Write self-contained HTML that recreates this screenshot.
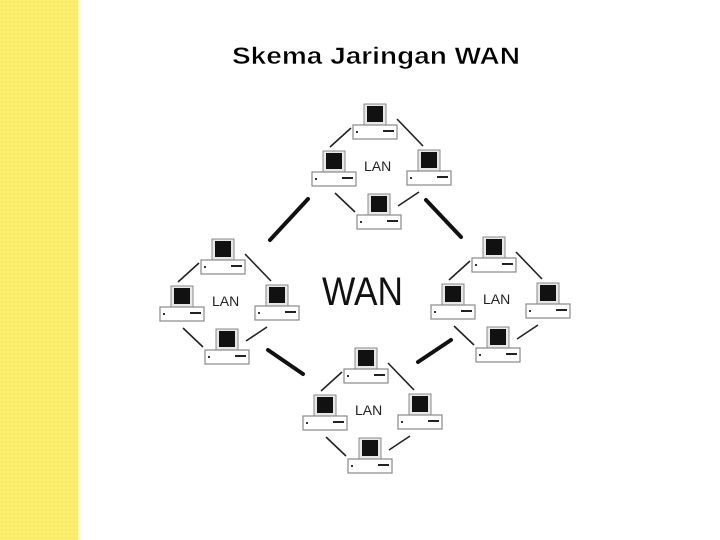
<!DOCTYPE html>
<html><head><meta charset="utf-8"><style>
html,body{margin:0;padding:0;background:#fff;}
body{width:720px;height:540px;position:relative;overflow:hidden;}
.strip{position:absolute;left:0;top:0;width:78px;height:540px;background:#faf06c;
background-image:radial-gradient(circle,#f6e86a 1px,transparent 1.6px);background-size:4px 4px;}
.edge{position:absolute;left:78px;top:0;width:2px;height:540px;background:#fdf8c8;}
</style></head><body>
<div class="strip"></div><div class="edge"></div>
<svg width="720" height="540" style="position:absolute;left:0;top:0" xmlns="http://www.w3.org/2000/svg">
<defs>
<g id="pc">
<rect x="-11" y="0" width="22" height="21" fill="#e8e8e8" stroke="#888" stroke-width="1"/>
<rect x="-8" y="2" width="16" height="16" fill="#111"/>
<rect x="-22" y="21" width="44" height="14" fill="#fff" stroke="#888" stroke-width="1.2"/>
<rect x="-19" y="27" width="2" height="2" fill="#333"/>
<rect x="8" y="26" width="11" height="2" fill="#222"/>
</g>
<g id="cl">
<use href="#pc" x="0" y="0"/>
<use href="#pc" x="-41" y="47"/>
<use href="#pc" x="54" y="46"/>
<use href="#pc" x="4" y="90"/>
<g stroke="#222" stroke-width="1.6">
<line x1="-24" y1="24" x2="-45" y2="43"/>
<line x1="22" y1="15" x2="48" y2="42"/>
<line x1="-40" y1="89" x2="-20" y2="108"/>
<line x1="23" y1="102" x2="44" y2="88"/>
</g>
<text x="-11" y="67" font-family="Liberation Sans, sans-serif" font-size="14" fill="#222">LAN</text>
</g>
</defs>
<text x="232" y="64" textLength="288" lengthAdjust="spacingAndGlyphs" font-family="Liberation Sans, sans-serif" font-size="24" font-weight="bold" fill="#000" stroke="#fff" stroke-width="0.5">Skema Jaringan WAN</text>
<use href="#cl" x="375" y="104"/>
<use href="#cl" x="223" y="239"/>
<use href="#cl" x="494" y="237"/>
<use href="#cl" x="366" y="348"/>
<g stroke="#111" stroke-width="4" stroke-linecap="round">
<line x1="270" y1="240" x2="308" y2="199"/>
<line x1="426" y1="200" x2="461" y2="237"/>
<line x1="268" y1="350" x2="303" y2="374"/>
<line x1="418" y1="362" x2="451" y2="340"/>
</g>
<text x="322" y="305" textLength="81" lengthAdjust="spacingAndGlyphs" font-family="Liberation Sans, sans-serif" font-size="40" fill="#111">WAN</text>
</svg>
</body></html>
